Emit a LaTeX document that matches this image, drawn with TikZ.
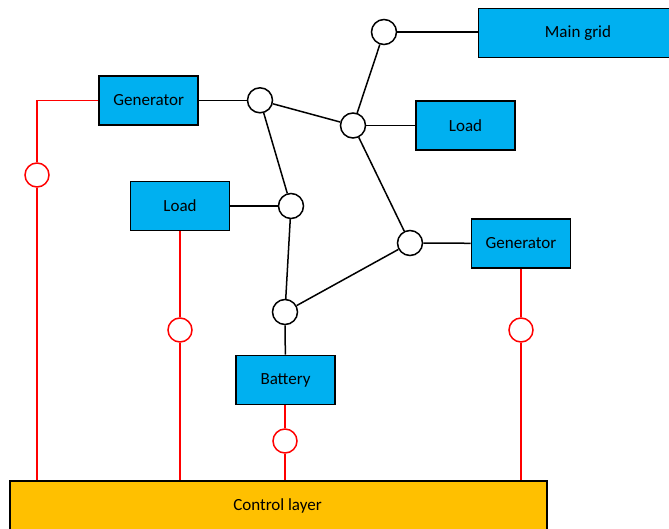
\documentclass[tikz,border=0pt]{standalone}
\usepackage{fontspec}
\setmainfont{Carlito}
\definecolor{unitblue}{HTML}{00B0F0}
\definecolor{ctrlgold}{HTML}{FFC000}
\definecolor{linkred}{HTML}{FF0000}
\begin{document}
\begin{tikzpicture}[x=1pt,y=-1pt,
  unit/.style={draw=black, line width=1.7pt, fill=unitblue, minimum width=99pt, minimum height=49pt,
    inner sep=0pt, font=\fontsize{17}{20}\selectfont, text=black},
  bus/.style={circle, draw=black, line width=1.5pt, fill=white, minimum size=25pt, inner sep=0pt},
  sensor/.style={circle, draw=linkred, line width=1.5pt, fill=white, minimum size=24pt, inner sep=0pt},
  wire/.style={draw=black, line width=1.5pt},
  ctrl/.style={draw=linkred, line width=1.6pt}]
\useasboundingbox (0,0) rectangle (669,528);
\begin{scope}
\clip (0,0) rectangle (669,528);

% control layer box (runs past the lower edge)
\node[draw=black, line width=1.7pt, fill=ctrlgold, minimum width=537pt, minimum height=60pt, inner sep=0pt,
  anchor=north west] (ctrl) at (9,480) {};
\node[font=\fontsize{17}{20}\selectfont, text=black] (ctrltxt) at (277.5,506) {Control layer};

% grid units
\node[unit, minimum width=202pt, anchor=north west] (grid) at (477.5,7.5) {};
\node[font=\fontsize{17}{20}\selectfont, text=black] (gridtxt) at (578,33) {Main grid};
\node[unit] (gen1) at (148.7,100.3) {Generator};
\node[unit] (load1) at (465.5,125.5) {Load};
\node[unit] (load2) at (180,206) {Load};
\node[unit] (gen2) at (521,243.5) {Generator};
\node[unit] (batt) at (285.5,380) {Battery};

% buses
\node[bus] (b1) at (384,32) {};
\node[bus] (b2) at (260,100.3) {};
\node[bus] (b3) at (353,125.5) {};
\node[bus] (b4) at (291,206) {};
\node[bus] (b5) at (410,243) {};
\node[bus] (b6) at (285,312) {};

% network lines
\draw[wire] (b1) -- (grid.west |- b1);
\draw[wire] (b1) -- (b3);
\draw[wire] (gen1) -- (b2);
\draw[wire] (b2) -- (b3);
\draw[wire] (b2) -- (b4);
\draw[wire] (b3) -- (load1);
\draw[wire] (b3) -- (b5);
\draw[wire] (load2) -- (b4);
\draw[wire] (b4) -- (b6);
\draw[wire] (b5) -- (gen2);
\draw[wire] (b5) -- (b6);
\draw[wire] (b6) -- (batt);

% control links
\coordinate (k1) at (37,100.3);
\node[sensor] (s1) at (37,175) {};
\node[sensor] (s2) at (180,330) {};
\node[sensor] (s3) at (285,441) {};
\node[sensor] (s4) at (521,330) {};
\draw[ctrl] (gen1.west) -- (k1) -- (s1);
\draw[ctrl] (s1) -- (s1 |- ctrl.north);
\draw[ctrl] (s2 |- load2.south) -- (s2);
\draw[ctrl] (s2) -- (s2 |- ctrl.north);
\draw[ctrl] (s3 |- batt.south) -- (s3);
\draw[ctrl] (s3) -- (s3 |- ctrl.north);
\draw[ctrl] (gen2) -- (s4);
\draw[ctrl] (s4) -- (s4 |- ctrl.north);
\end{scope}
\end{tikzpicture}
\end{document}
